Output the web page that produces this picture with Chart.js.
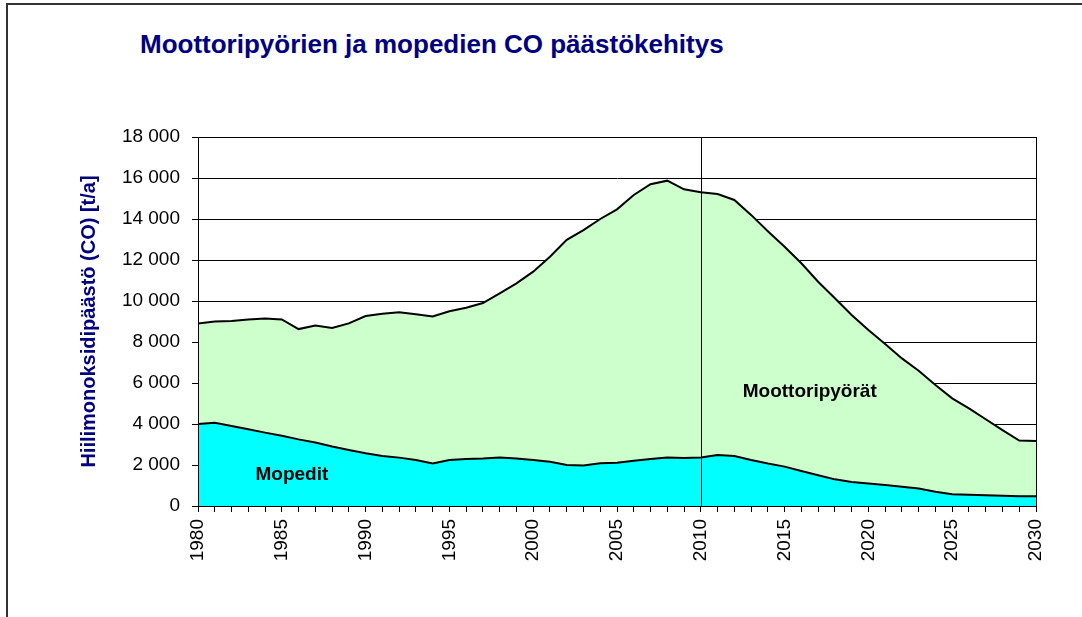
<!DOCTYPE html>
<html>
<head>
<meta charset="utf-8">
<script src="https://cdn.jsdelivr.net/npm/chart.js"></script>
<style>
  html, body { margin: 0; padding: 0; background: #fff; }
  #wrap { position: relative; width: 1082px; height: 617px; overflow: hidden; }
  #frame { position: absolute; left: 6px; top: 3px; right: -10px; bottom: -10px;
           border-top: 2px solid #333; border-left: 2px solid #333; }
  #title { position: absolute; left: 140px; top: 31px; margin: 0;
           font: bold 26px "Liberation Sans", Arial, sans-serif; line-height: 26px;
           color: #000080; white-space: nowrap; }
  canvas { position: absolute; left: 0; top: 0; }
</style>
</head>
<body>
<div id="wrap">
  <div id="frame"></div>
  <h1 id="title">Moottoripyörien ja mopedien CO päästökehitys</h1>
  <canvas id="chart" width="1082" height="617"></canvas>
</div>
<script>
const YEARS = [
  1980, 1981, 1982, 1983, 1984, 1985, 1986, 1987, 1988, 1989,
  1990, 1991, 1992, 1993, 1994, 1995, 1996, 1997, 1998, 1999,
  2000, 2001, 2002, 2003, 2004, 2005, 2006, 2007, 2008, 2009,
  2010, 2011, 2012, 2013, 2014, 2015, 2016, 2017, 2018, 2019,
  2020, 2021, 2022, 2023, 2024, 2025, 2026, 2027, 2028, 2029, 2030,
];

// t/a, bottom layer
const MOPEDIT = [
  4000, 4060, 3900, 3740, 3580, 3430, 3250, 3100, 2900, 2730,
  2570, 2440, 2360, 2240, 2080, 2240, 2290, 2320, 2370, 2320,
  2240, 2160, 2000, 1970, 2080, 2110, 2210, 2290, 2370, 2340,
  2370, 2490, 2440, 2240, 2070, 1920, 1710, 1500, 1300, 1170,
  1100, 1020, 940, 850, 700, 570, 550, 520, 500, 470, 470,
];

// t/a, stacked on top of mopeds
const MOOTTORIPYORAT = [
  4900, 4940, 5120, 5360, 5570, 5670, 5380, 5700, 5780, 6180,
  6700, 6940, 7090, 7110, 7170, 7260, 7380, 7580, 8000, 8540,
  9190, 10000, 10980, 11490, 11920, 12360, 12960, 13410, 13500, 13110,
  12930, 12730, 12490, 11960, 11330, 10730, 10130, 9440, 8830, 8150,
  7490, 6880, 6260, 5750, 5200, 4680, 4210, 3710, 3200, 2720, 2700,
];

const Y_MIN = 0;
const Y_MAX = 18000;
const Y_STEP = 2000;
const MARKER_YEAR = 2010;

// in-chart labels, placed in data units
const AREA_LABELS = [
  { text: 'Mopedit', year: 1985.6, value: 1500 },
  { text: 'Moottoripyörät', year: 2016.5, value: 5560 },
];

const FONT = '"Liberation Sans", Arial, sans-serif';

function fmt(v) {
  return String(v).replace(/\B(?=(\d{3})+(?!\d))/g, ' ');
}

const overlay = {
  id: 'overlay',
  afterDatasetsDraw(chart) {
    const { ctx, chartArea: a, scales: { x, y } } = chart;
    ctx.save();
    ctx.strokeStyle = '#000';
    ctx.lineWidth = 1;
    const mx = Math.round(x.getPixelForValue(MARKER_YEAR - YEARS[0])) + 0.5;
    ctx.beginPath();
    ctx.moveTo(mx, a.top);
    ctx.lineTo(mx, a.bottom);
    ctx.stroke();
    ctx.strokeRect(Math.round(a.left) + 0.5, Math.round(a.top) + 0.5,
      Math.round(a.right - a.left), Math.round(a.bottom - a.top));

    ctx.fillStyle = '#000';
    ctx.font = 'bold 19px ' + FONT;
    ctx.textAlign = 'center';
    ctx.textBaseline = 'middle';
    AREA_LABELS.forEach((l) => {
      ctx.fillText(l.text, x.getPixelForValue(l.year - YEARS[0]), y.getPixelForValue(l.value));
    });
    ctx.restore();
  },
};

function drawChart() {
  const ctx = document.getElementById('chart').getContext('2d');
  new Chart(ctx, {
    type: 'line',
    data: {
      labels: YEARS.map(String),
      datasets: [
        {
          label: 'Mopedit',
          data: MOPEDIT,
          backgroundColor: '#00ffff',
          borderColor: '#000',
          borderWidth: 2,
          pointRadius: 0,
          tension: 0,
          fill: 'origin',
        },
        {
          label: 'Moottoripyörät',
          data: MOOTTORIPYORAT,
          backgroundColor: '#ccffcc',
          borderColor: '#000',
          borderWidth: 2,
          pointRadius: 0,
          tension: 0,
          fill: '-1',
        },
      ],
    },
    options: {
      responsive: false,
      animation: false,
      layout: { padding: { left: 0, right: 46, top: 137, bottom: 0 } },
      plugins: {
        legend: { display: false },
        tooltip: { enabled: false },
      },
      scales: {
        x: {
          type: 'category',
          offset: false,
          grid: { drawOnChartArea: false, drawTicks: true, tickLength: 6, color: '#000' },
          border: { color: '#000', width: 1 },
          ticks: {
            autoSkip: false,
            maxRotation: 90,
            minRotation: 90,
            padding: 7,
            color: '#000',
            font: { family: FONT, size: 19 },
            callback: (v, i) => (YEARS[i] % 5 === 0 ? String(YEARS[i]) : ''),
          },
          afterFit: (s) => { s.height = 111; },
        },
        y: {
          stacked: true,
          min: Y_MIN,
          max: Y_MAX,
          grid: { color: '#000', lineWidth: 1, tickLength: 6 },
          border: { color: '#000', width: 1 },
          ticks: {
            stepSize: Y_STEP,
            padding: 12,
            color: '#000',
            font: { family: FONT, size: 19 },
            callback: (v) => fmt(v),
          },
          title: {
            display: true,
            text: 'Hiilimonoksidipäästö (CO) [t/a]',
            color: '#000080',
            font: { family: FONT, size: 20, weight: 'bold' },
            padding: { top: 77, bottom: 0 },
          },
          afterFit: (s) => { s.width = 198; },
        },
      },
    },
    plugins: [overlay],
  });
}

drawChart();
</script>
</body>
</html>
